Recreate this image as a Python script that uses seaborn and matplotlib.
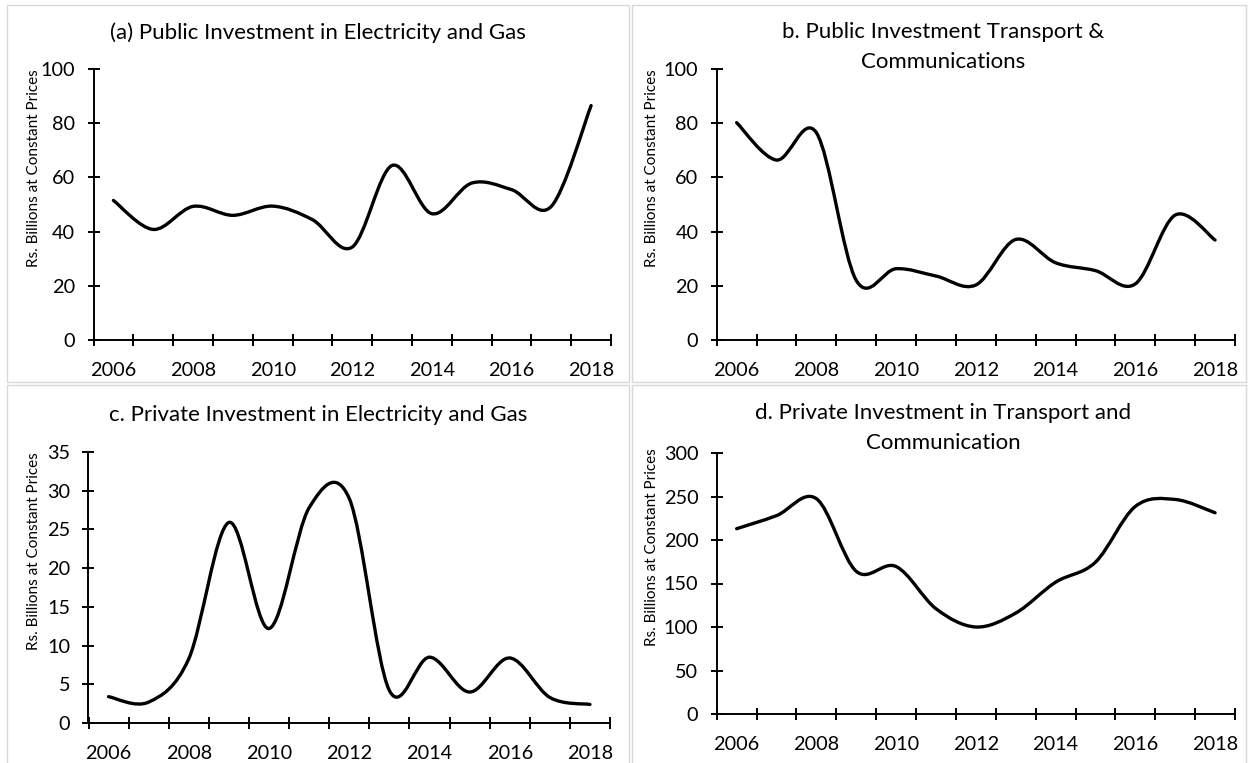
import numpy as np
import matplotlib
matplotlib.use("Agg")
import matplotlib.pyplot as plt
from matplotlib.path import Path
from matplotlib.patches import PathPatch, Rectangle
import seaborn as sns

# ---- data (Rs. billions at constant prices) ----
years = list(range(2006, 2019))
public_elec_gas = [51.5, 40.8, 49.3, 46.0, 49.4, 44.4, 34.3, 64.4, 46.6, 57.9, 55.5, 49.3, 86.5]
public_transport = [80.2, 66.4, 76.5, 22.0, 26.3, 23.6, 20.3, 37.1, 28.5, 25.6, 20.7, 46.1, 36.9]
private_elec_gas = [3.4, 2.7, 8.3, 25.9, 12.2, 27.8, 29.0, 4.2, 8.5, 4.0, 8.4, 3.3, 2.4]
private_transport = [213, 228, 247.5, 164, 169.5, 121, 100, 116, 151.5, 174.5, 238.6, 246.6, 231.3]

titles = [
    "(a) Public Investment in Electricity and Gas",
    "b. Public Investment Transport &\nCommunications",
    "c. Private Investment in Electricity and Gas",
    "d. Private Investment in Transport and\nCommunication",
]
y_label = "Rs. Billions at Constant Prices"
y_max = [100, 100, 35, 300]
y_step = [20, 20, 5, 50]

W, H = 1249, 763

sns.set_theme(style="ticks", rc={
    "axes.edgecolor": "black", "xtick.color": "black", "ytick.color": "black",
    "text.color": "black", "axes.labelcolor": "black",
})
plt.rcParams["font.family"] = ["Lato", "DejaVu Sans"]

fig = plt.figure(figsize=(W / 100, H / 100), dpi=100)


def px_axes(left, top, right, bottom):
    return fig.add_axes([left / W, 1 - bottom / H, (right - left) / W, (bottom - top) / H])


def smooth_path(x, y):
    # excel style "smoothed line": a cubic bezier through every point
    x = np.asarray(x, float)
    y = np.asarray(y, float)
    px = np.r_[x[0], x, x[-1]]
    py = np.r_[y[0], y, y[-1]]
    verts = [(x[0], y[0])]
    for i in range(1, len(x)):
        verts.append((px[i] + (px[i + 1] - px[i - 1]) / 6, py[i] + (py[i + 1] - py[i - 1]) / 6))
        verts.append((px[i + 1] - (px[i + 2] - px[i]) / 6, py[i + 1] - (py[i + 2] - py[i]) / 6))
        verts.append((x[i], y[i]))
    codes = [Path.MOVETO] + [Path.CURVE4] * (3 * (len(x) - 1))
    return Path(verts, codes)


# panel boxes (chart area borders) and plot areas, in pixels
boxes = [(7, 5, 629, 382), (632, 5, 1246, 382), (7, 385, 629, 770), (632, 385, 1246, 770)]
plots = [(93.5, 69, 611, 340), (716.7, 69, 1235, 340), (88.5, 452, 610, 723), (716.7, 453, 1235, 714)]
title_pos = [(318, 33), (943, 47), (318, 415), (943, 428)]
ylabel_x = [34, 652, 34, 652]
series = [public_elec_gas, public_transport, private_elec_gas, private_transport]

for i in range(4):
    bx0, by0, bx1, by1 = boxes[i]
    fig.add_artist(Rectangle((bx0 / W, 1 - by1 / H), (bx1 - bx0) / W, (by1 - by0) / H,
                             transform=fig.transFigure, fill=False, edgecolor="#d9d9d9", lw=1))

    left, top, right, bottom = plots[i]
    ax = px_axes(left, top, right, bottom)
    ax.add_patch(PathPatch(smooth_path(years, series[i]), facecolor="none",
                           edgecolor="black", lw=2.4, capstyle="round", joinstyle="round"))

    ax.set_xlim(2005.5, 2018.5)
    ax.set_ylim(0, y_max[i])
    ax.set_xticks(np.arange(2005.5, 2019, 1))
    ax.set_xticks(years[::2], minor=True)
    ax.set_xticklabels([str(y) for y in years[::2]], minor=True)
    ax.set_yticks(np.arange(0, y_max[i] + y_step[i], y_step[i]))
    ax.tick_params(axis="x", which="major", labelbottom=False, direction="inout", length=8, width=1.4)
    ax.tick_params(axis="x", which="minor", length=0, pad=16, labelsize=14.3)
    ax.tick_params(axis="y", direction="inout", length=8.5, width=1.4, pad=9, labelsize=14.3)
    sns.despine(ax=ax)
    for s in ["left", "bottom"]:
        ax.spines[s].set_linewidth(1.4)

    ax.set_ylabel(y_label, fontsize=11, va="center")
    ax.yaxis.set_label_coords((ylabel_x[i] - left) / (right - left),
                              (bottom - (top + bottom) / 2 + 36) / (bottom - top))

    tx, ty = title_pos[i]
    fig.text(tx / W, 1 - ty / H, titles[i], ha="center", va="center", fontsize=16, linespacing=1.65)

fig.savefig("out.png", dpi=100)
